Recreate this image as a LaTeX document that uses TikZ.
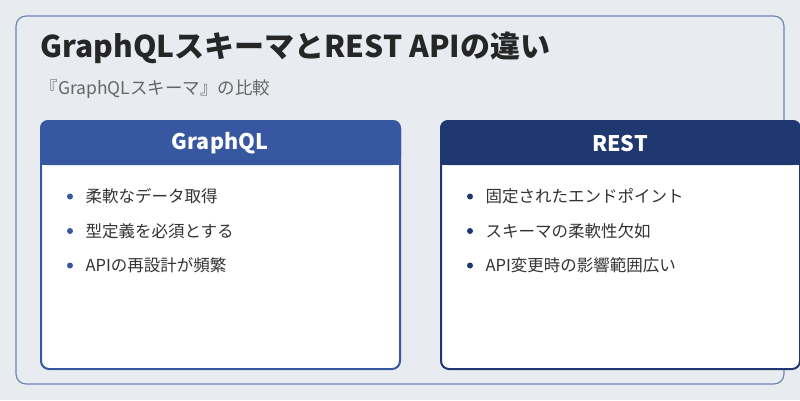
\documentclass[tikz,border=0pt]{standalone}
\usepackage{fontspec}
\setmainfont{Noto Sans CJK JP}
\begin{document}
\begin{tikzpicture}[x=1pt,y=-1pt,
  card/.style={draw=#1,line width=2pt,fill=white,rounded corners=8pt},
  head/.style={font=\fontsize{21.5}{24}\selectfont\bfseries,text=white,anchor=center},
  item/.style={font=\fontsize{16.5}{19}\selectfont,text=black!80,anchor=west},
  dot/.style={circle,fill=#1,inner sep=0pt,minimum size=6pt}]
\definecolor{bg}{HTML}{E8ECF1}
\definecolor{frame}{HTML}{6F86B4}
\definecolor{lblue}{HTML}{3757A0}
\definecolor{dblue}{HTML}{1F3870}
\useasboundingbox (0,0) rectangle (800,400);
\fill[bg] (0,0) rectangle (800,400);
\draw[frame,line width=1.2pt,rounded corners=10pt,fill=bg] (16,16) rectangle (784,384);
\node[anchor=west,font=\fontsize{30}{34}\selectfont\bfseries,text=black!85] (title) at (37,48) {GraphQLスキーマとREST APIの違い};
\node[anchor=west,font=\fontsize{17.5}{20}\selectfont,text=black!60] (sub) at (37,89) {『GraphQLスキーマ』の比較};
% left
\draw[card=lblue] (41,121) rectangle (400,369);
\fill[lblue,rounded corners=8pt] (40,120) rectangle (401,165);
\fill[lblue] (40,150) rectangle (401,165);
\node[head] (lh) at (220,143) {GraphQL};
\foreach \t [count=\i] in {柔軟なデータ取得,型定義を必須とする,APIの再設計が頻繁}{
  \node[dot=lblue] (ld\i) at (70,162+\i*34.5) {};
  \node[item] (lt\i) at (82,162+\i*34.5) {\t};
}
% right
\draw[card=dblue] (441,121) rectangle (800,369);
\fill[dblue,rounded corners=8pt] (440,120) rectangle (801,165);
\fill[dblue] (440,150) rectangle (801,165);
\node[head] (rh) at (620,143) {REST};
\foreach \t [count=\i] in {固定されたエンドポイント,スキーマの柔軟性欠如,API変更時の影響範囲広い}{
  \node[dot=dblue] (rd\i) at (470,162+\i*34.5) {};
  \node[item] (rt\i) at (482,162+\i*34.5) {\t};
}
\end{tikzpicture}
\end{document}
